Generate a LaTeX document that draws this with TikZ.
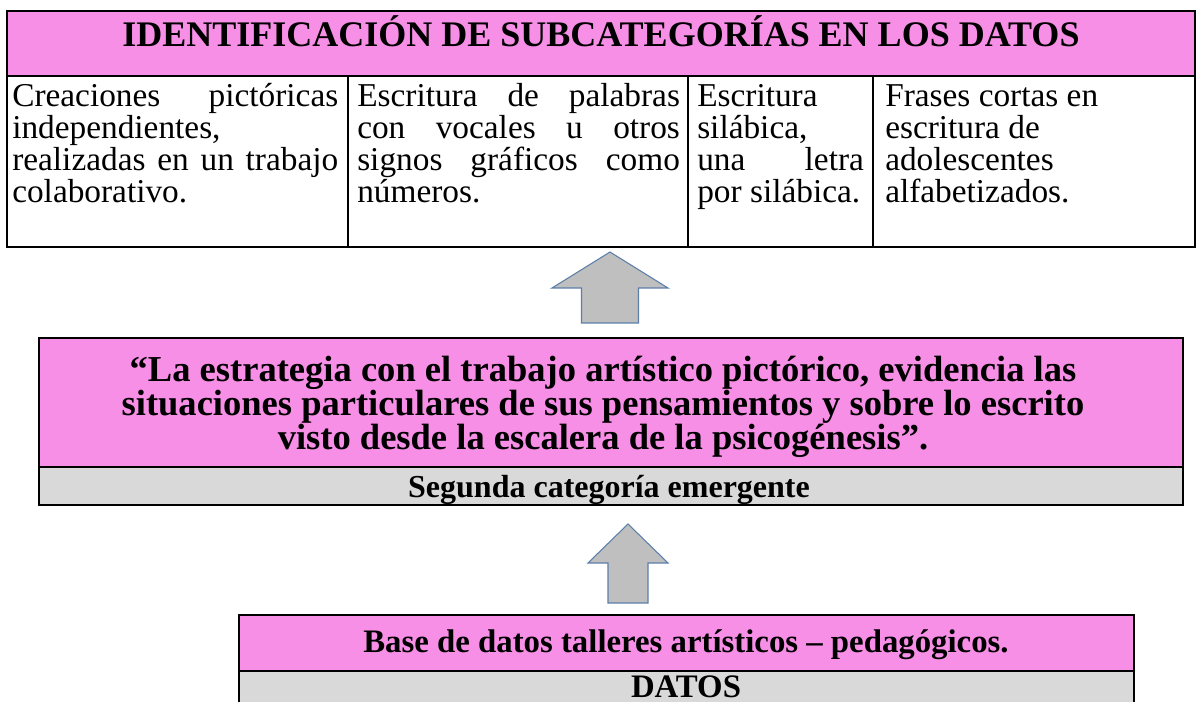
\documentclass[tikz,border=0pt]{standalone}
\usepackage{fontspec}
\setmainfont{Liberation Serif}
\usepackage{xcolor}

\definecolor{boxpink}{RGB}{247,143,230}
\definecolor{rowgray}{RGB}{217,217,217}
\definecolor{arrowgray}{RGB}{191,191,191}
\definecolor{arrowedge}{RGB}{92,127,170}

\tikzset{
  pinkbox/.style={draw=black, line width=1.5, fill=boxpink},
  graybox/.style={draw=black, line width=1.5, fill=rowgray},
  cellline/.style={draw=black, line width=1.5},
  blockarrow/.style={draw=arrowedge, line width=0.8, fill=arrowgray, line join=miter},
  % upward block arrow: length, half shaft, half head, head length
  pics/bigup/.style n args={4}{code={%
    \draw[blockarrow] (-#2,0) -- (-#2,#1-#4) -- (-#3,#1-#4) -- (0,#1)
      -- (#3,#1-#4) -- (#2,#1-#4) -- (#2,0) -- cycle;
  }},
}

\begin{document}
\begin{tikzpicture}[x=0.75pt,y=0.75pt,yscale=-1,xscale=1]
\useasboundingbox (0,0) rectangle (1204,702);

%Shape: Rectangle (title row)
\draw [pinkbox] (7,11) rectangle (1195,76) ;
%Shape: Rectangle (cells)
\draw [cellline] (7,76) rectangle (1195,247) ;
%Straight Lines
\draw [cellline] (348,76) -- (348,247) ;
\draw [cellline] (688,76) -- (688,247) ;
\draw [cellline] (873,76) -- (873,247) ;

%Shape: Rectangle (category)
\draw [pinkbox] (39,338) rectangle (1183,467) ;
\draw [graybox] (39,467) rectangle (1183,505) ;

%Shape: Rectangle (data base)
\draw [pinkbox] (239,615) rectangle (1134,671) ;
\draw [graybox] (239,671) rectangle (1134,712) ;

%Block arrows
\coordinate (upfirst) at (610,323) ;
\coordinate (upsecond) at (628,603) ;
\pic at (upfirst) {bigup={71}{28.5}{58}{36}} ;
\pic at (upsecond) {bigup={79}{20}{40}{39}} ;

% Text Node
\draw (601,47) node [anchor=base][inner sep=0pt] (title) {\bfseries\fontsize{27}{30}\selectfont IDENTIFICACIÓN DE SUBCATEGORÍAS EN LOS DATOS};
% Text Node
\draw (12,107) node [anchor=base west][inner sep=0pt][text width=244.5pt, align=justify] (cellone) {\fontsize{25}{24}\selectfont\lineskiplimit=-20pt Creaciones pictóricas\linebreak independientes,\newline realizadas en un trabajo\linebreak colaborativo.\par};
% Text Node
\draw (357,107) node [anchor=base west][inner sep=0pt][text width=242pt, align=justify] (celltwo) {\fontsize{25}{24}\selectfont\lineskiplimit=-20pt Escritura de palabras\linebreak con vocales u otros\linebreak signos gráficos como\linebreak números.\par};
% Text Node
\draw (697,107) node [anchor=base west][inner sep=0pt][text width=125pt, align=justify] (cellthree) {\fontsize{25}{24}\selectfont\lineskiplimit=-20pt Escritura\newline silábica,\newline una letra\linebreak por silábica.\par};
% Text Node
\draw (885,107) node [anchor=base west][inner sep=0pt][text width=229pt, align=left] (cellfour) {\fontsize{25}{24}\selectfont\lineskiplimit=-20pt\spaceskip=.25em\relax Frases cortas en\newline escritura de\newline adolescentes\newline alfabetizados.\par};
% Text Node
\draw (603,382) node [anchor=base][inner sep=0pt][text width=825pt, align=center] (quote) {\bfseries\fontsize{27.4}{25.5}\selectfont\lineskiplimit=-20pt\spaceskip=.25em\relax “La estrategia con el trabajo artístico pictórico, evidencia las\\ situaciones particulares de sus pensamientos y sobre lo escrito\\ visto desde la escalera de la psicogénesis”.\par};
% Text Node
\draw (609,497) node [anchor=base][inner sep=0pt] (second) {\bfseries\fontsize{24}{26}\selectfont Segunda categoría emergente};
% Text Node
\draw (686,652) node [anchor=base][inner sep=0pt] (basedata) {\bfseries\fontsize{24.6}{27}\selectfont Base de datos talleres artísticos – pedagógicos.};
% Text Node
\draw (686,697) node [anchor=base][inner sep=0pt] (data) {\bfseries\fontsize{24.6}{27}\selectfont DATOS};

\end{tikzpicture}
\end{document}
